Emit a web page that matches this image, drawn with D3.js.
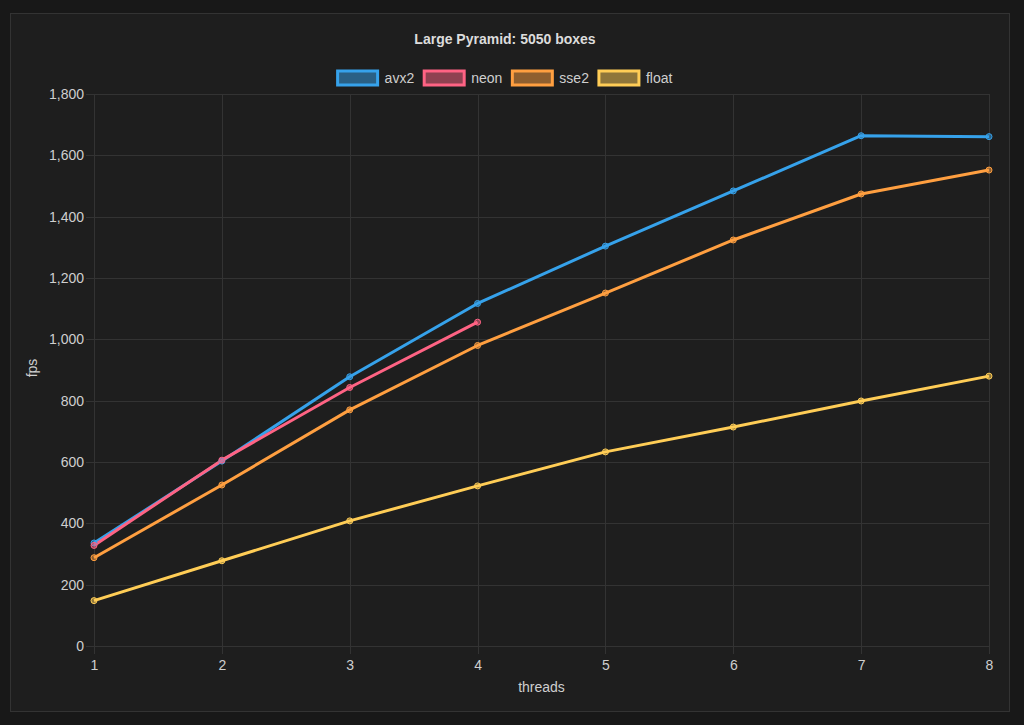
<!DOCTYPE html>
<html><head><meta charset="utf-8">
<script src="https://cdn.jsdelivr.net/npm/d3@7"></script>
<style>
html,body{margin:0;padding:0;background:#181818;}
svg{display:block;font-family:"Liberation Sans",Arial,Helvetica,sans-serif;}
</style></head><body>
<svg id="c" width="1024" height="725"></svg>
<script>
const threads = [1, 2, 3, 4, 5, 6, 7, 8];
const avx2  = [336, 603, 878, 1117, 1304, 1484, 1664, 1661];
const neon  = [328, 606, 843, 1056];
const sse2  = [288, 525, 770, 980, 1151, 1324, 1474, 1552];
const float = [148, 278, 408, 522, 633, 714, 799, 880];
const yTicks = [0, 200, 400, 600, 800, 1000, 1200, 1400, 1600, 1800];
const seriesNames = ["avx2", "neon", "sse2", "float"];
const seriesColors = ["54,162,235", "255,99,132", "255,159,64", "255,205,86"];
const seriesValues = [avx2, neon, sse2, float];
const titleText = "Large Pyramid: 5050 boxes";

const FS = "14px";
const svg = d3.select("#c");
// card
svg.append("rect").attr("x", 10.5).attr("y", 13.5).attr("width", 999).attr("height", 698)
  .attr("fill", "#1e1e1e").attr("stroke", "#333");

const x = d3.scaleLinear().domain([1, 8]).range([94, 989]);
const y = d3.scaleLinear().domain([0, 1800]).range([646, 94]);
const grid = "#333";
const tickCol = "#cfcfcf";

// grid
const g = svg.append("g");
g.selectAll(".hy").data(yTicks).join("line")
  .attr("x1", 86).attr("x2", 989).attr("y1", d => Math.round(y(d)) + 0.5).attr("y2", d => Math.round(y(d)) + 0.5)
  .attr("stroke", grid);
g.selectAll(".vx").data(threads).join("line")
  .attr("x1", d => Math.round(x(d)) + 0.5).attr("x2", d => Math.round(x(d)) + 0.5)
  .attr("y1", 94).attr("y2", 654).attr("stroke", grid);

// axes via d3
const yAxis = d3.axisLeft(y).tickValues(yTicks).tickSize(0).tickPadding(10).tickFormat(d3.format(","));
const ya = svg.append("g").attr("transform", "translate(94,0)").call(yAxis);
const xAxis = d3.axisBottom(x).tickValues(threads).tickSize(0).tickPadding(14).tickFormat(d3.format("d"));
const xa = svg.append("g").attr("transform", "translate(0,646)").call(xAxis);
[ya, xa].forEach(a => {
  a.select(".domain").remove();
  a.selectAll("text").attr("fill", tickCol).style("font-size", FS).style("font-family", "Liberation Sans, Arial, sans-serif");
});

// axis titles
svg.append("text").attr("x", 541.5).attr("y", 692).attr("text-anchor", "middle")
  .attr("fill", tickCol).style("font-size", FS).text("threads");
svg.append("text").attr("transform", "translate(37,368) rotate(-90)").attr("text-anchor", "middle")
  .attr("fill", tickCol).style("font-size", FS).text("fps");

// title
svg.append("text").attr("x", 505).attr("y", 44).attr("text-anchor", "middle")
  .attr("fill", "#dcdcdc").style("font-size", FS).style("font-weight", "bold").text(titleText);

// lines
const line = d3.line().x((d, i) => x(threads[i])).y(d => y(d));
seriesValues.forEach((vals, si) => {
  const c = seriesColors[si];
  svg.append("path").datum(vals).attr("d", line).attr("fill", "none")
    .attr("stroke", `rgb(${c})`).attr("stroke-width", 3).attr("stroke-linejoin", "round");
});
seriesValues.forEach((vals, si) => {
  const c = seriesColors[si];
  svg.append("g").selectAll("circle").data(vals).join("circle")
    .attr("cx", (d, i) => x(threads[i])).attr("cy", d => y(d)).attr("r", 3)
    .attr("fill", `rgba(${c},0.5)`).attr("stroke", `rgb(${c})`).attr("stroke-width", 1);
});

// legend
const lg = svg.append("g");
const tmp = lg.append("text").style("font-size", FS);
const widths = seriesNames.map(n => { tmp.text(n); return tmp.node().getComputedTextLength(); });
tmp.remove();
const boxW = 40, boxH = 14, gap = 7, pad = 10;
const total = d3.sum(widths.map(w => boxW + gap + w)) + pad * (seriesNames.length - 1);
let cx = 505 - total / 2;
seriesNames.forEach((n, i) => {
  const c = seriesColors[i];
  lg.append("rect").attr("x", cx).attr("y", 71).attr("width", boxW).attr("height", boxH)
    .attr("fill", `rgba(${c},0.5)`).attr("stroke", `rgb(${c})`).attr("stroke-width", 3);
  lg.append("text").attr("x", cx + boxW + gap).attr("y", 82.5).attr("fill", tickCol)
    .style("font-size", FS).text(n);
  cx += boxW + gap + widths[i] + pad;
});
</script>
</body></html>
